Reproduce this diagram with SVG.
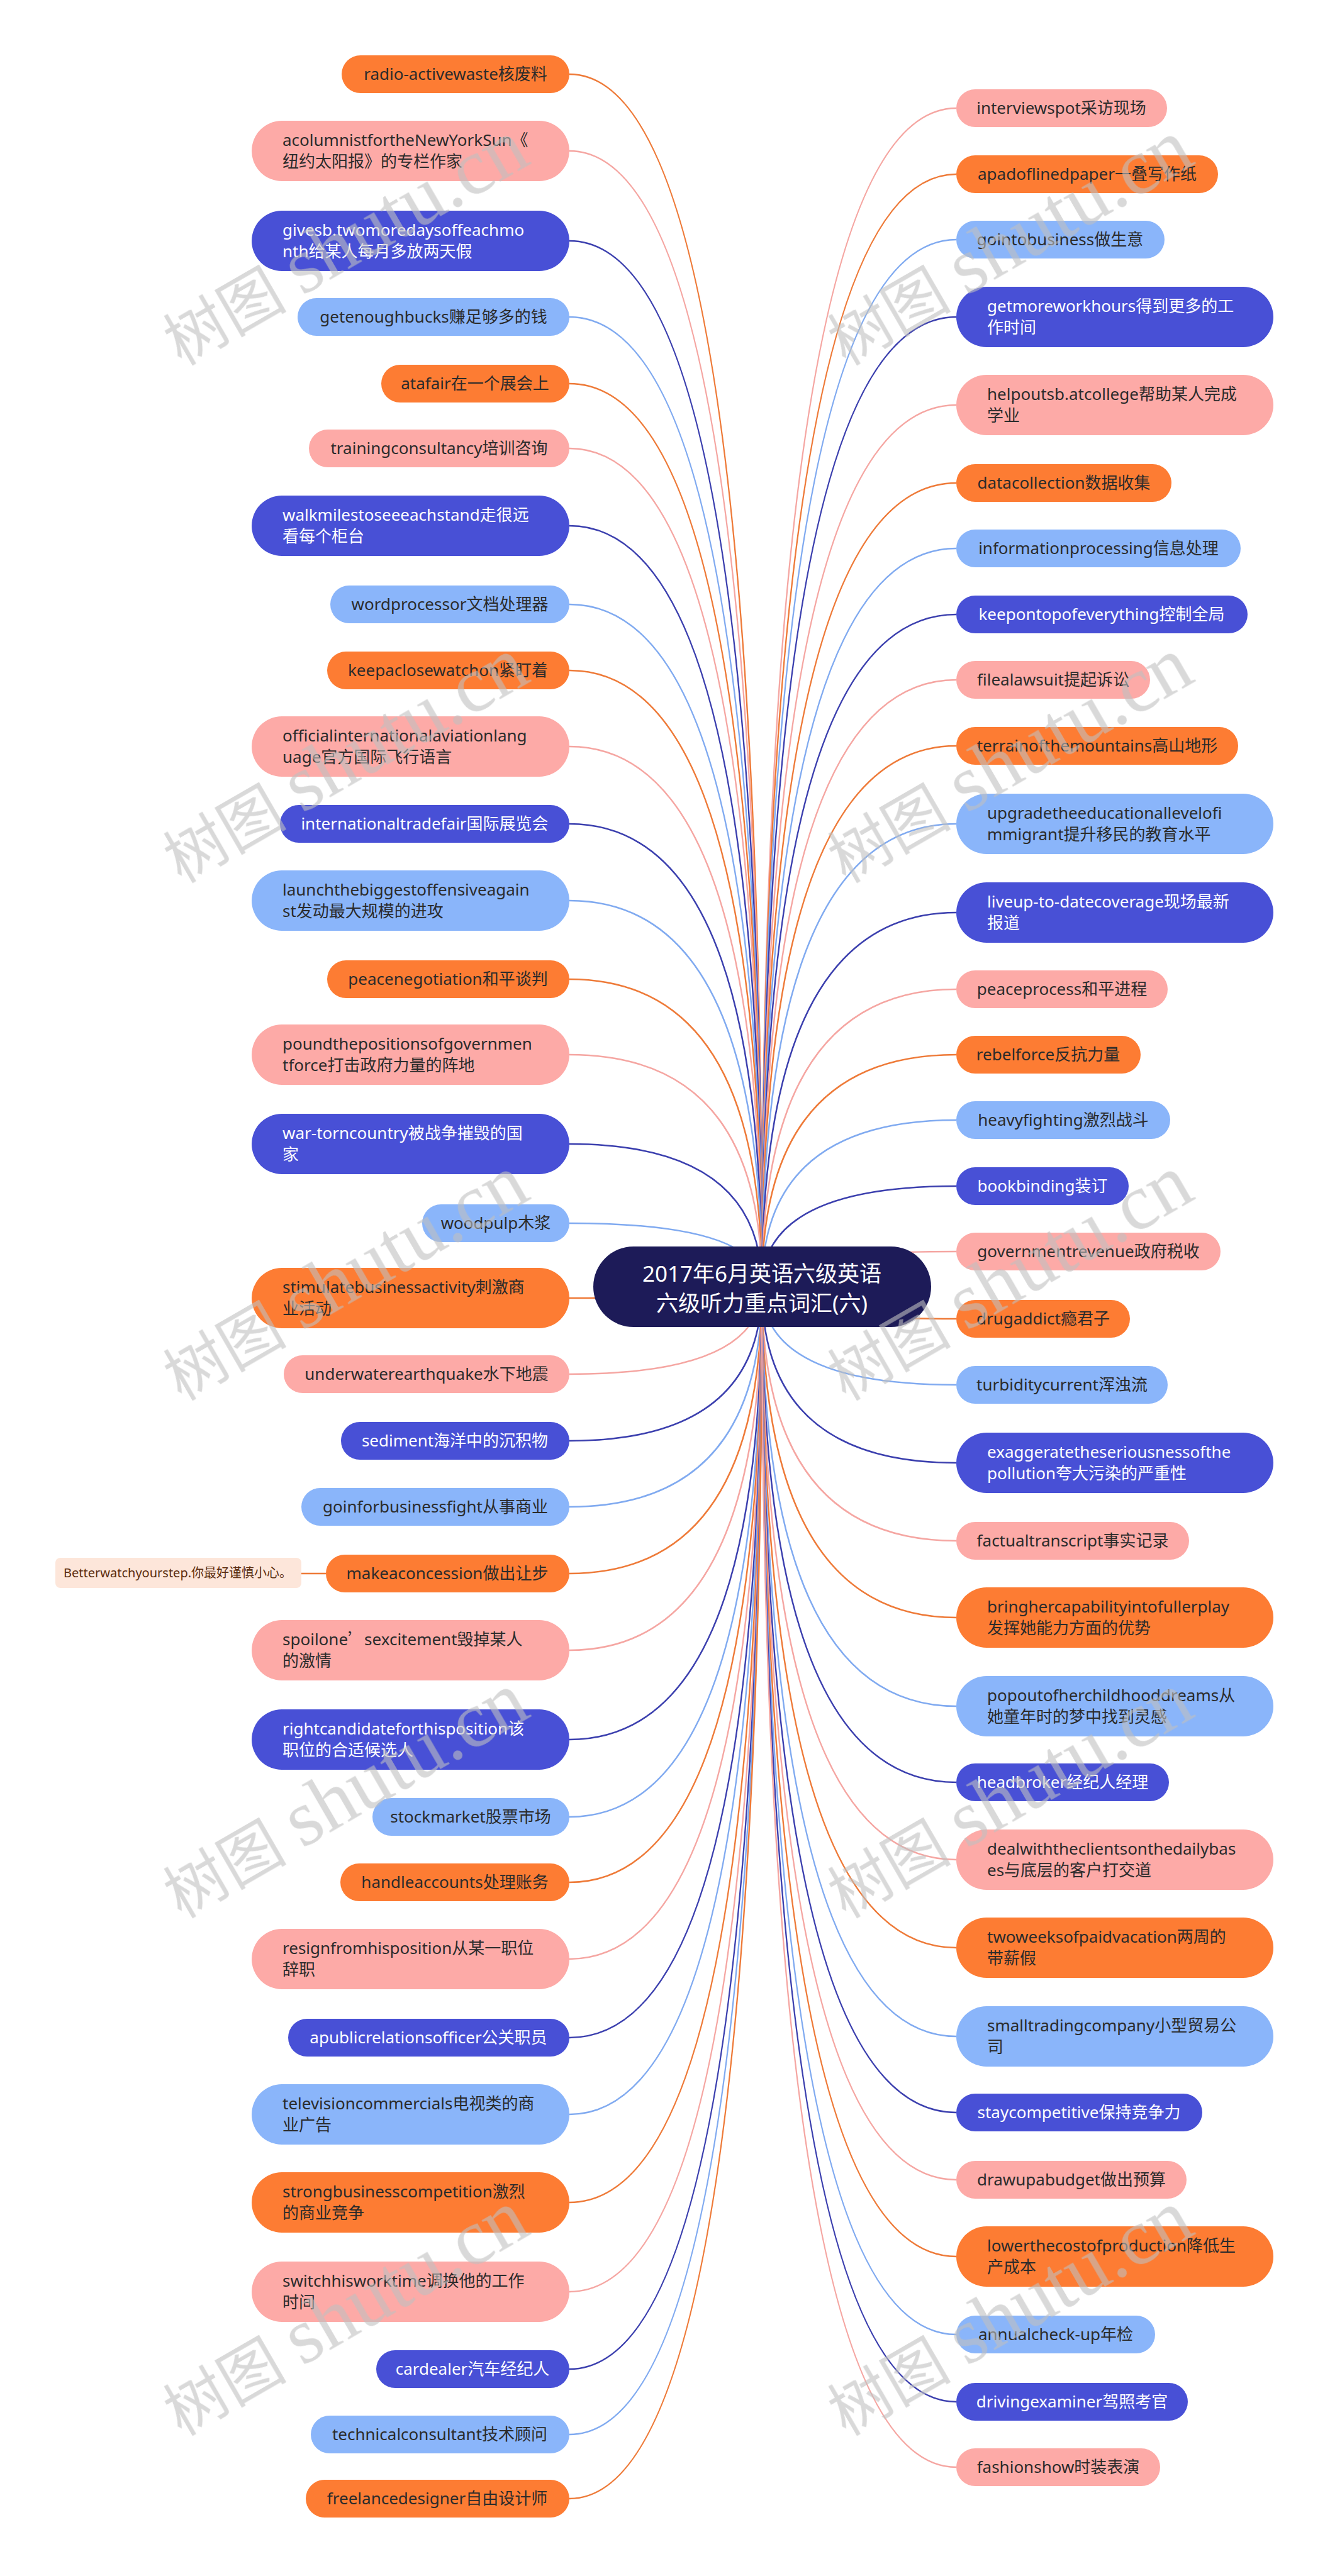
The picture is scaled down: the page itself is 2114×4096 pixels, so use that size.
<svg xmlns="http://www.w3.org/2000/svg" width="2114" height="4096" viewBox="0 0 2114 4096">
<style>
.o{fill:#FD7C33}.p{fill:#FDAAA7}.b{fill:#4850D6}.l{fill:#8AB5FA}
.t{font-family:'Noto Sans','Noto Sans CJK SC',sans-serif;font-size:26px;fill:#2b2b2b}
.w{fill:#ffffff}
.m{text-anchor:middle}
.c path{fill:none;stroke-width:2.5}
.co{stroke:#EE7A38}.cp{stroke:#F5A6A2}.cb{stroke:#3B3FAE}.cl{stroke:#80AAF0}
.wm{font-family:'Liberation Serif','Noto Sans CJK SC',serif;font-size:98px;fill:#c0c0c0;opacity:0.6}
.wl{font-size:126px}
.q{font-family:'Noto Sans CJK SC',sans-serif}
</style>
<rect width="2114" height="4096" fill="#ffffff"/>
<g id="connectors" class="c">
<path class="co" d="M905 118Q1211 118 1211 2046"/>
<path class="cp" d="M905 240Q1211 240 1211 2046"/>
<path class="cb" d="M905 383Q1211 383 1211 2046"/>
<path class="cl" d="M905 504Q1211 504 1211 2046"/>
<path class="co" d="M905 610Q1211 610 1211 2046"/>
<path class="cp" d="M905 713Q1211 713 1211 2046"/>
<path class="cb" d="M905 836Q1211 836 1211 2046"/>
<path class="cl" d="M905 961Q1211 961 1211 2046"/>
<path class="co" d="M905 1066Q1211 1066 1211 2046"/>
<path class="cp" d="M905 1187Q1211 1187 1211 2046"/>
<path class="cb" d="M905 1310Q1211 1310 1211 2046"/>
<path class="cl" d="M905 1432Q1211 1432 1211 2046"/>
<path class="co" d="M905 1557Q1211 1557 1211 2046"/>
<path class="cp" d="M905 1677Q1211 1677 1211 2046"/>
<path class="cb" d="M905 1819Q1211 1819 1211 2046"/>
<path class="cl" d="M905 1945Q1211 1945 1211 2046"/>
<path class="co" d="M905 2064Q1211 2064 1211 2046"/>
<path class="cp" d="M905 2185Q1211 2185 1211 2046"/>
<path class="cb" d="M905 2291Q1211 2291 1211 2046"/>
<path class="cl" d="M905 2396Q1211 2396 1211 2046"/>
<path class="co" d="M905 2502Q1211 2502 1211 2046"/>
<path class="cp" d="M905 2624Q1211 2624 1211 2046"/>
<path class="cb" d="M905 2766Q1211 2766 1211 2046"/>
<path class="cl" d="M905 2889Q1211 2889 1211 2046"/>
<path class="co" d="M905 2993Q1211 2993 1211 2046"/>
<path class="cp" d="M905 3115Q1211 3115 1211 2046"/>
<path class="cb" d="M905 3240Q1211 3240 1211 2046"/>
<path class="cl" d="M905 3362Q1211 3362 1211 2046"/>
<path class="co" d="M905 3502Q1211 3502 1211 2046"/>
<path class="cp" d="M905 3644Q1211 3644 1211 2046"/>
<path class="cb" d="M905 3767Q1211 3767 1211 2046"/>
<path class="cl" d="M905 3871Q1211 3871 1211 2046"/>
<path class="co" d="M905 3973Q1211 3973 1211 2046"/>
<path class="cp" d="M1520 172Q1211 172 1211 2046"/>
<path class="co" d="M1520 277Q1211 277 1211 2046"/>
<path class="cl" d="M1520 381Q1211 381 1211 2046"/>
<path class="cb" d="M1520 504Q1211 504 1211 2046"/>
<path class="cp" d="M1520 644Q1211 644 1211 2046"/>
<path class="co" d="M1520 768Q1211 768 1211 2046"/>
<path class="cl" d="M1520 872Q1211 872 1211 2046"/>
<path class="cb" d="M1520 977Q1211 977 1211 2046"/>
<path class="cp" d="M1520 1081Q1211 1081 1211 2046"/>
<path class="co" d="M1520 1186Q1211 1186 1211 2046"/>
<path class="cl" d="M1520 1310Q1211 1310 1211 2046"/>
<path class="cb" d="M1520 1451Q1211 1451 1211 2046"/>
<path class="cp" d="M1520 1573Q1211 1573 1211 2046"/>
<path class="co" d="M1520 1677Q1211 1677 1211 2046"/>
<path class="cl" d="M1520 1781Q1211 1781 1211 2046"/>
<path class="cb" d="M1520 1886Q1211 1886 1211 2046"/>
<path class="cp" d="M1520 1990Q1211 1990 1211 2046"/>
<path class="co" d="M1520 2097Q1211 2097 1211 2046"/>
<path class="cl" d="M1520 2202Q1211 2202 1211 2046"/>
<path class="cb" d="M1520 2326Q1211 2326 1211 2046"/>
<path class="cp" d="M1520 2450Q1211 2450 1211 2046"/>
<path class="co" d="M1520 2572Q1211 2572 1211 2046"/>
<path class="cl" d="M1520 2713Q1211 2713 1211 2046"/>
<path class="cb" d="M1520 2834Q1211 2834 1211 2046"/>
<path class="cp" d="M1520 2957Q1211 2957 1211 2046"/>
<path class="co" d="M1520 3097Q1211 3097 1211 2046"/>
<path class="cl" d="M1520 3238Q1211 3238 1211 2046"/>
<path class="cb" d="M1520 3359Q1211 3359 1211 2046"/>
<path class="cp" d="M1520 3466Q1211 3466 1211 2046"/>
<path class="co" d="M1520 3588Q1211 3588 1211 2046"/>
<path class="cl" d="M1520 3712Q1211 3712 1211 2046"/>
<path class="cb" d="M1520 3819Q1211 3819 1211 2046"/>
<path class="cp" d="M1520 3923Q1211 3923 1211 2046"/>
<path class="co" d="M518 2502L479 2502"/>
</g>
<g id="root">
<rect x="943" y="1982" width="537" height="128" rx="64" fill="#1D1B58"/>
<text x="1211" y="2038" text-anchor="middle" font-family="'Noto Sans','Noto Sans CJK SC',sans-serif" font-size="35" fill="#ffffff">2017年6月英语六级英语</text>
<text x="1211" y="2085" text-anchor="middle" font-family="'Noto Sans','Noto Sans CJK SC',sans-serif" font-size="35" fill="#ffffff">六级听力重点词汇(六)</text>
</g>
<g id="L1"><rect class="o" x="543" y="88" width="362" height="60" rx="30"/><text class="t m" x="724" y="127">radio-activewaste核废料</text></g>
<g id="L2"><rect class="p" x="400" y="192" width="505" height="96" rx="48"/><text class="t" x="449" y="232">acolumnistfortheNewYorkSun《</text><text class="t" x="449" y="266">纽约太阳报》的专栏作家</text></g>
<g id="L3"><rect class="b" x="400" y="335" width="505" height="96" rx="48"/><text class="t w" x="449" y="375">givesb.twomoredaysoffeachmo</text><text class="t w" x="449" y="409">nth给某人每月多放两天假</text></g>
<g id="L4"><rect class="l" x="473" y="474" width="432" height="60" rx="30"/><text class="t m" x="689" y="513">getenoughbucks赚足够多的钱</text></g>
<g id="L5"><rect class="o" x="606" y="580" width="299" height="60" rx="30"/><text class="t m" x="755" y="619">atafair在一个展会上</text></g>
<g id="L6"><rect class="p" x="491" y="683" width="414" height="60" rx="30"/><text class="t m" x="698" y="722">trainingconsultancy培训咨询</text></g>
<g id="L7"><rect class="b" x="400" y="788" width="505" height="96" rx="48"/><text class="t w" x="449" y="828">walkmilestoseeeachstand走很远</text><text class="t w" x="449" y="862">看每个柜台</text></g>
<g id="L8"><rect class="l" x="525" y="931" width="380" height="60" rx="30"/><text class="t m" x="715" y="970">wordprocessor文档处理器</text></g>
<g id="L9"><rect class="o" x="520" y="1036" width="385" height="60" rx="30"/><text class="t m" x="712" y="1075">keepaclosewatchon紧盯着</text></g>
<g id="L10"><rect class="p" x="400" y="1139" width="505" height="96" rx="48"/><text class="t" x="449" y="1179">officialinternationalaviationlang</text><text class="t" x="449" y="1213">uage官方国际飞行语言</text></g>
<g id="L11"><rect class="b" x="445" y="1280" width="460" height="60" rx="30"/><text class="t w m" x="675" y="1319">internationaltradefair国际展览会</text></g>
<g id="L12"><rect class="l" x="400" y="1384" width="505" height="96" rx="48"/><text class="t" x="449" y="1424">launchthebiggestoffensiveagain</text><text class="t" x="449" y="1458">st发动最大规模的进攻</text></g>
<g id="L13"><rect class="o" x="520" y="1527" width="385" height="60" rx="30"/><text class="t m" x="712" y="1566">peacenegotiation和平谈判</text></g>
<g id="L14"><rect class="p" x="400" y="1629" width="505" height="96" rx="48"/><text class="t" x="449" y="1669">poundthepositionsofgovernmen</text><text class="t" x="449" y="1703">tforce打击政府力量的阵地</text></g>
<g id="L15"><rect class="b" x="400" y="1771" width="505" height="96" rx="48"/><text class="t w" x="449" y="1811">war-torncountry被战争摧毁的国</text><text class="t w" x="449" y="1845">家</text></g>
<g id="L16"><rect class="l" x="671" y="1915" width="234" height="60" rx="30"/><text class="t m" x="788" y="1954">woodpulp木浆</text></g>
<g id="L17"><rect class="o" x="400" y="2016" width="505" height="96" rx="48"/><text class="t" x="449" y="2056">stimulatebusinessactivity刺激商</text><text class="t" x="449" y="2090">业活动</text></g>
<g id="L18"><rect class="p" x="451" y="2155" width="454" height="60" rx="30"/><text class="t m" x="678" y="2194">underwaterearthquake水下地震</text></g>
<g id="L19"><rect class="b" x="542" y="2261" width="363" height="60" rx="30"/><text class="t w m" x="723" y="2300">sediment海洋中的沉积物</text></g>
<g id="L20"><rect class="l" x="479" y="2366" width="426" height="60" rx="30"/><text class="t m" x="692" y="2405">goinforbusinessfight从事商业</text></g>
<g id="L21"><rect class="o" x="518" y="2472" width="387" height="60" rx="30"/><text class="t m" x="711" y="2511">makeaconcession做出让步</text></g>
<g id="L21a"><rect x="88" y="2477" width="391" height="48" rx="8" fill="#FDE6DA"/><text x="101" y="2508" font-family="'Noto Sans','Noto Sans CJK SC',sans-serif" font-size="20" fill="#5C2D0E">Betterwatchyourstep.你最好谨慎小心。</text></g>
<g id="L22"><rect class="p" x="400" y="2576" width="505" height="96" rx="48"/><text class="t" x="449" y="2616">spoilone<tspan class="q">’</tspan>sexcitement毁掉某人</text><text class="t" x="449" y="2650">的激情</text></g>
<g id="L23"><rect class="b" x="400" y="2718" width="505" height="96" rx="48"/><text class="t w" x="449" y="2758">rightcandidateforthisposition该</text><text class="t w" x="449" y="2792">职位的合适候选人</text></g>
<g id="L24"><rect class="l" x="592" y="2859" width="313" height="60" rx="30"/><text class="t m" x="748" y="2898">stockmarket股票市场</text></g>
<g id="L25"><rect class="o" x="541" y="2963" width="364" height="60" rx="30"/><text class="t m" x="723" y="3002">handleaccounts处理账务</text></g>
<g id="L26"><rect class="p" x="400" y="3067" width="505" height="96" rx="48"/><text class="t" x="449" y="3107">resignfromhisposition从某一职位</text><text class="t" x="449" y="3141">辞职</text></g>
<g id="L27"><rect class="b" x="458" y="3210" width="447" height="60" rx="30"/><text class="t w m" x="681" y="3249">apublicrelationsofficer公关职员</text></g>
<g id="L28"><rect class="l" x="400" y="3314" width="505" height="96" rx="48"/><text class="t" x="449" y="3354">televisioncommercials电视类的商</text><text class="t" x="449" y="3388">业广告</text></g>
<g id="L29"><rect class="o" x="400" y="3454" width="505" height="96" rx="48"/><text class="t" x="449" y="3494">strongbusinesscompetition激烈</text><text class="t" x="449" y="3528">的商业竞争</text></g>
<g id="L30"><rect class="p" x="400" y="3596" width="505" height="96" rx="48"/><text class="t" x="449" y="3636">switchhisworktime调换他的工作</text><text class="t" x="449" y="3670">时间</text></g>
<g id="L31"><rect class="b" x="598" y="3737" width="307" height="60" rx="30"/><text class="t w m" x="751" y="3776">cardealer汽车经纪人</text></g>
<g id="L32"><rect class="l" x="494" y="3841" width="411" height="60" rx="30"/><text class="t m" x="699" y="3880">technicalconsultant技术顾问</text></g>
<g id="L33"><rect class="o" x="486" y="3943" width="419" height="60" rx="30"/><text class="t m" x="695" y="3982">freelancedesigner自由设计师</text></g>
<g id="R1"><rect class="p" x="1520" y="142" width="335" height="60" rx="30"/><text class="t m" x="1687" y="181">interviewspot采访现场</text></g>
<g id="R2"><rect class="o" x="1520" y="247" width="416" height="60" rx="30"/><text class="t m" x="1728" y="286">apadoflinedpaper一叠写作纸</text></g>
<g id="R3"><rect class="l" x="1520" y="351" width="331" height="60" rx="30"/><text class="t m" x="1685" y="390">gointobusiness做生意</text></g>
<g id="R4"><rect class="b" x="1520" y="456" width="504" height="96" rx="48"/><text class="t w" x="1569" y="496">getmoreworkhours得到更多的工</text><text class="t w" x="1569" y="530">作时间</text></g>
<g id="R5"><rect class="p" x="1520" y="596" width="504" height="96" rx="48"/><text class="t" x="1569" y="636">helpoutsb.atcollege帮助某人完成</text><text class="t" x="1569" y="670">学业</text></g>
<g id="R6"><rect class="o" x="1520" y="738" width="342" height="60" rx="30"/><text class="t m" x="1691" y="777">datacollection数据收集</text></g>
<g id="R7"><rect class="l" x="1520" y="842" width="452" height="60" rx="30"/><text class="t m" x="1746" y="881">informationprocessing信息处理</text></g>
<g id="R8"><rect class="b" x="1520" y="947" width="463" height="60" rx="30"/><text class="t w m" x="1751" y="986">keepontopofeverything控制全局</text></g>
<g id="R9"><rect class="p" x="1520" y="1051" width="308" height="60" rx="30"/><text class="t m" x="1674" y="1090">filealawsuit提起诉讼</text></g>
<g id="R10"><rect class="o" x="1520" y="1156" width="448" height="60" rx="30"/><text class="t m" x="1744" y="1195">terrainofthemountains高山地形</text></g>
<g id="R11"><rect class="l" x="1520" y="1262" width="504" height="96" rx="48"/><text class="t" x="1569" y="1302">upgradetheeducationallevelofi</text><text class="t" x="1569" y="1336">mmigrant提升移民的教育水平</text></g>
<g id="R12"><rect class="b" x="1520" y="1403" width="504" height="96" rx="48"/><text class="t w" x="1569" y="1443">liveup-to-datecoverage现场最新</text><text class="t w" x="1569" y="1477">报道</text></g>
<g id="R13"><rect class="p" x="1520" y="1543" width="336" height="60" rx="30"/><text class="t m" x="1688" y="1582">peaceprocess和平进程</text></g>
<g id="R14"><rect class="o" x="1520" y="1647" width="293" height="60" rx="30"/><text class="t m" x="1666" y="1686">rebelforce反抗力量</text></g>
<g id="R15"><rect class="l" x="1520" y="1751" width="340" height="60" rx="30"/><text class="t m" x="1690" y="1790">heavyfighting激烈战斗</text></g>
<g id="R16"><rect class="b" x="1520" y="1856" width="274" height="60" rx="30"/><text class="t w m" x="1657" y="1895">bookbinding装订</text></g>
<g id="R17"><rect class="p" x="1520" y="1960" width="420" height="60" rx="30"/><text class="t m" x="1730" y="1999">governmentrevenue政府税收</text></g>
<g id="R18"><rect class="o" x="1520" y="2067" width="276" height="60" rx="30"/><text class="t m" x="1658" y="2106">drugaddict瘾君子</text></g>
<g id="R19"><rect class="l" x="1520" y="2172" width="336" height="60" rx="30"/><text class="t m" x="1688" y="2211">turbiditycurrent浑浊流</text></g>
<g id="R20"><rect class="b" x="1520" y="2278" width="504" height="96" rx="48"/><text class="t w" x="1569" y="2318">exaggeratetheseriousnessofthe</text><text class="t w" x="1569" y="2352">pollution夸大污染的严重性</text></g>
<g id="R21"><rect class="p" x="1520" y="2420" width="370" height="60" rx="30"/><text class="t m" x="1705" y="2459">factualtranscript事实记录</text></g>
<g id="R22"><rect class="o" x="1520" y="2524" width="504" height="96" rx="48"/><text class="t" x="1569" y="2564">bringhercapabilityintofullerplay</text><text class="t" x="1569" y="2598">发挥她能力方面的优势</text></g>
<g id="R23"><rect class="l" x="1520" y="2665" width="504" height="96" rx="48"/><text class="t" x="1569" y="2705">popoutofherchildhooddreams从</text><text class="t" x="1569" y="2739">她童年时的梦中找到灵感</text></g>
<g id="R24"><rect class="b" x="1520" y="2804" width="338" height="60" rx="30"/><text class="t w m" x="1689" y="2843">headbroker经纪人经理</text></g>
<g id="R25"><rect class="p" x="1520" y="2909" width="504" height="96" rx="48"/><text class="t" x="1569" y="2949">dealwiththeclientsonthedailybas</text><text class="t" x="1569" y="2983">es与底层的客户打交道</text></g>
<g id="R26"><rect class="o" x="1520" y="3049" width="504" height="96" rx="48"/><text class="t" x="1569" y="3089">twoweeksofpaidvacation两周的</text><text class="t" x="1569" y="3123">带薪假</text></g>
<g id="R27"><rect class="l" x="1520" y="3190" width="504" height="96" rx="48"/><text class="t" x="1569" y="3230">smalltradingcompany小型贸易公</text><text class="t" x="1569" y="3264">司</text></g>
<g id="R28"><rect class="b" x="1520" y="3329" width="391" height="60" rx="30"/><text class="t w m" x="1715" y="3368">staycompetitive保持竞争力</text></g>
<g id="R29"><rect class="p" x="1520" y="3436" width="366" height="60" rx="30"/><text class="t m" x="1703" y="3475">drawupabudget做出预算</text></g>
<g id="R30"><rect class="o" x="1520" y="3540" width="504" height="96" rx="48"/><text class="t" x="1569" y="3580">lowerthecostofproduction降低生</text><text class="t" x="1569" y="3614">产成本</text></g>
<g id="R31"><rect class="l" x="1520" y="3682" width="316" height="60" rx="30"/><text class="t m" x="1678" y="3721">annualcheck-up年检</text></g>
<g id="R32"><rect class="b" x="1520" y="3789" width="368" height="60" rx="30"/><text class="t w m" x="1704" y="3828">drivingexaminer驾照考官</text></g>
<g id="R33"><rect class="p" x="1520" y="3893" width="324" height="60" rx="30"/><text class="t m" x="1682" y="3932">fashionshow时装表演</text></g>
<g id="watermark" class="wm">
<text transform="translate(288 582) rotate(-30)">树图<tspan class="wl" dx="26">shutu.cn</tspan></text>
<text transform="translate(1344 582) rotate(-30)">树图<tspan class="wl" dx="26">shutu.cn</tspan></text>
<text transform="translate(288 1405) rotate(-30)">树图<tspan class="wl" dx="26">shutu.cn</tspan></text>
<text transform="translate(1344 1405) rotate(-30)">树图<tspan class="wl" dx="26">shutu.cn</tspan></text>
<text transform="translate(288 2228) rotate(-30)">树图<tspan class="wl" dx="26">shutu.cn</tspan></text>
<text transform="translate(1344 2228) rotate(-30)">树图<tspan class="wl" dx="26">shutu.cn</tspan></text>
<text transform="translate(288 3051) rotate(-30)">树图<tspan class="wl" dx="26">shutu.cn</tspan></text>
<text transform="translate(1344 3051) rotate(-30)">树图<tspan class="wl" dx="26">shutu.cn</tspan></text>
<text transform="translate(288 3874) rotate(-30)">树图<tspan class="wl" dx="26">shutu.cn</tspan></text>
<text transform="translate(1344 3874) rotate(-30)">树图<tspan class="wl" dx="26">shutu.cn</tspan></text>
</g>
</svg>
